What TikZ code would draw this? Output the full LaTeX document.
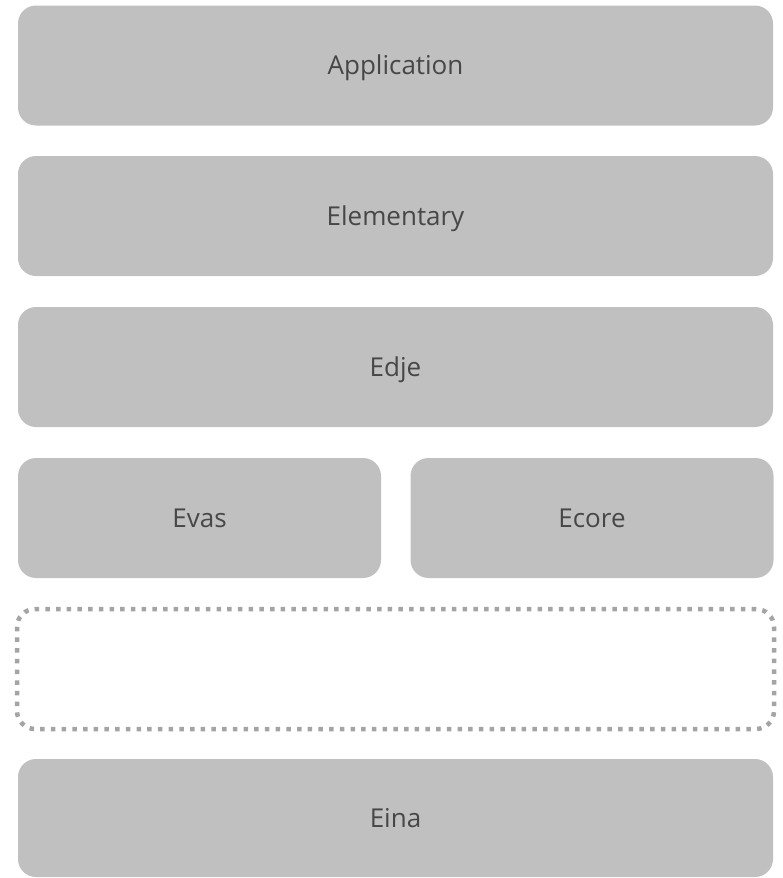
\documentclass[tikz,border=0pt]{standalone}
\usepackage{fontspec}
\setmainfont{Open Sans}
\usepackage{tikz}
\definecolor{layerfill}{HTML}{C0C0C0}
\definecolor{layertext}{HTML}{474747}
\definecolor{dotgray}{HTML}{A4A4A4}
\tikzset{
  layer/.style={fill=layerfill, rounded corners=18pt, text=layertext,
    font=\fontsize{26pt}{30pt}\selectfont, text height=18.5pt, text depth=0pt,
    minimum height=120pt, inner sep=0pt},
  wide/.style={layer, minimum width=755pt},
  half/.style={layer, minimum width=363pt},
  slot/.style={draw=dotgray, line width=4.5pt, dash pattern=on 4.5pt off 6.2pt,
    rounded corners=18pt, minimum width=757pt, minimum height=120pt}
}
\begin{document}
\begin{tikzpicture}[x=1pt, y=-1pt]
  \useasboundingbox (0,0) rectangle (783,878);

  \node[wide] (app)  at (395.5,65.5) {Application};
  \node[wide] (elm)  at (395.5,216) {Elementary};
  \node[wide] (edje) at (395.5,367) {Edje};

  \node[half] (evas)  at (199.5,518) {Evas};
  \node[half] (ecore) at (592,518) {Ecore};

  \node[slot] (empty) at (395.5,669) {};

  \node[layer, minimum width=755pt, minimum height=118pt] (eina) at (395.5,818) {Eina};
\end{tikzpicture}
\end{document}
